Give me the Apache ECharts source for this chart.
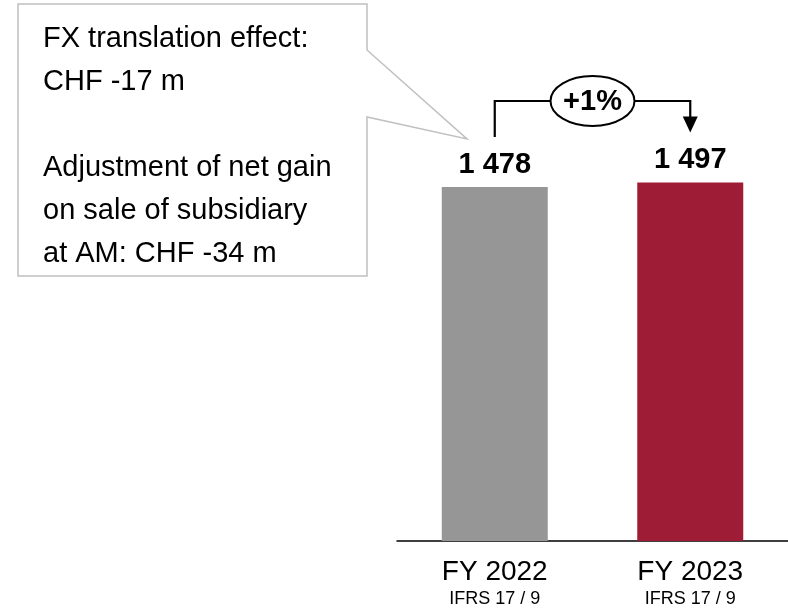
<!DOCTYPE html>
<html>
<head>
<meta charset="utf-8">
<script src="https://cdn.jsdelivr.net/npm/echarts@6/dist/echarts.min.js"></script>
<style>
html,body{margin:0;padding:0;background:#fff;}
#c{width:788px;height:608px;}
</style>
</head>
<body>
<div id="c"></div>
<script>
var categories = ['FY 2022', 'FY 2023'];
var subLabels = ['IFRS 17 / 9', 'IFRS 17 / 9'];
var values = [1478, 1497];
var valueLabels = ['1 478', '1 497'];
var barColors = ['#969696', '#9e1c36'];
var changeLabel = '+1%';
var calloutLines = ['FX translation effect:', 'CHF -17 m', '', 'Adjustment of net gain', 'on sale of subsidiary', 'at AM: CHF -34 m'];

var FONT = '"Liberation Sans", Arial, sans-serif';
var chart = echarts.init(document.getElementById('c'), null, {renderer: 'canvas'});

var option = {
  animation: false,
  backgroundColor: '#fff',
  grid: {left: 397, right: 0, top: 62, bottom: 67, containLabel: false},
  xAxis: {
    type: 'category',
    data: categories,
    axisTick: {show: false},
    axisLine: {lineStyle: {color: '#000', width: 1.5}},
    axisLabel: {
      margin: 15,
      formatter: function (v, i) { return '{a|' + v + '}\n{b|' + subLabels[i] + '}'; },
      rich: {
        a: {fontFamily: FONT, fontSize: 28, lineHeight: 32, color: '#000'},
        b: {fontFamily: FONT, fontSize: 18, lineHeight: 22, color: '#000'}
      }
    }
  },
  yAxis: {type: 'value', min: 0, max: 2000, show: false, splitLine: {show: false}},
  series: [{
    type: 'bar',
    barWidth: 106,
    data: values.map(function (v, i) { return {value: v, itemStyle: {color: barColors[i]}}; }),
    label: {
      show: true,
      position: 'top',
      distance: 8,
      fontFamily: FONT,
      fontSize: 29,
      fontWeight: 'bold',
      color: '#000',
      formatter: function (p) { return valueLabels[p.dataIndex]; }
    }
  }]
};
chart.setOption(option);

var p0 = chart.convertToPixel({gridIndex: 0}, [categories[0], values[0]]);
var p1 = chart.convertToPixel({gridIndex: 0}, [categories[1], values[1]]);
var yH = 101;
var midX = (p0[0] + p1[0]) / 2;

chart.setOption({
  graphic: [
    {
      type: 'polygon',
      shape: {points: [[18, 4], [367, 4], [367, 50], [467, 139], [367, 117], [367, 276], [18, 276]]},
      style: {fill: '#fff', stroke: '#c0c0c0', lineWidth: 1.5}
    },
    {
      type: 'text',
      left: 43, top: 17,
      style: {text: calloutLines.join('\n'), font: '29px ' + FONT, lineHeight: 43, fill: '#000'}
    },
    {
      type: 'polyline',
      shape: {points: [[p0[0], p0[1] - 50], [p0[0], yH], [midX - 42, yH]]},
      style: {stroke: '#000', lineWidth: 2.2, fill: null}
    },
    {
      type: 'polyline',
      shape: {points: [[midX + 42, yH], [p1[0], yH], [p1[0], p1[1] - 64]]},
      style: {stroke: '#000', lineWidth: 2.2, fill: null}
    },
    {
      type: 'polygon',
      shape: {points: [[p1[0] - 7.5, p1[1] - 66], [p1[0] + 7.5, p1[1] - 66], [p1[0], p1[1] - 50]]},
      style: {fill: '#000'}
    },
    {
      type: 'ellipse',
      shape: {cx: midX, cy: yH, rx: 42, ry: 25},
      style: {fill: '#fff', stroke: '#000', lineWidth: 2}
    },
    {
      type: 'text',
      x: midX, y: yH + 1,
      style: {text: changeLabel, font: 'bold 29px ' + FONT, fill: '#000', textAlign: 'center', textVerticalAlign: 'middle'}
    }
  ]
});
</script>
</body>
</html>
